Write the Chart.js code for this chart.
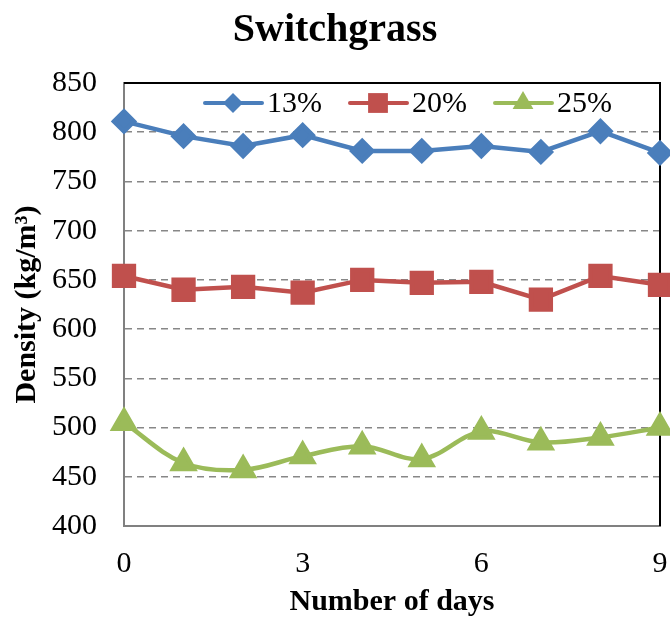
<!DOCTYPE html>
<html>
<head>
<meta charset="utf-8">
<script src="https://cdn.jsdelivr.net/npm/chart.js@4.4.0/dist/chart.umd.min.js"></script>
<style>
  html, body { margin: 0; padding: 0; background: #fff; }
</style>
</head>
<body>
<canvas id="chart" width="670" height="627"></canvas>
<script>
// Data
var days = [0, 1, 2, 3, 4, 5, 6, 7, 8, 9];
var density13 = [811, 796, 786, 797, 781, 781, 786, 780, 801, 779];
var density20 = [654, 640, 643, 637, 650, 647, 648, 630, 654, 645];
var density25 = [505, 464, 457, 471, 481, 468, 496, 485, 490, 500];
var seriesNames = ['13%', '20%', '25%'];
var yMin = 400, yMax = 850, yStep = 50;
var xStep = 3;

var serif = "'Liberation Serif', 'Times New Roman', serif";

function pairs(vals) {
  return days.map(function (d, i) { return { x: d, y: vals[i] }; });
}

// plot frame: black top and right edges
var framePlugin = {
  id: 'frame',
  beforeDatasetsDraw: function (chart) {
    var a = chart.chartArea, ctx = chart.ctx;
    ctx.save();
    ctx.strokeStyle = '#000';
    ctx.lineWidth = 2;
    ctx.beginPath();
    ctx.moveTo(a.left, a.top);
    ctx.lineTo(a.right, a.top);
    ctx.lineTo(a.right, a.bottom);
    ctx.stroke();
    ctx.restore();
  }
};

// legend inside the plot, Excel style: line with marker in the middle
var legendPlugin = {
  id: 'inLegend',
  afterDatasetsDraw: function (chart) {
    var ctx = chart.ctx;
    var y = 103;
    var x = 205;
    ctx.save();
    ctx.font = '30px ' + serif;
    ctx.textBaseline = 'middle';
    chart.data.datasets.forEach(function (ds) {
      ctx.strokeStyle = ds.borderColor;
      ctx.lineWidth = 4;
      ctx.lineCap = 'round';
      ctx.beginPath();
      ctx.moveTo(x, y);
      ctx.lineTo(x + 57, y);
      ctx.stroke();
      ctx.fillStyle = ds.pointBackgroundColor;
      Chart.helpers.drawPoint(ctx, {
        pointStyle: ds.pointStyle, radius: ds.pointRadius, rotation: 0, borderWidth: 0
      }, x + 28, y);
      ctx.fillStyle = '#000';
      ctx.fillText(ds.label, x + 62, y + 1);
      x += 145;
    });
    ctx.restore();
  }
};

var ctx = document.getElementById('chart').getContext('2d');
var chart = new Chart(ctx, {
  type: 'line',
  data: {
    datasets: [{
      label: seriesNames[0],
      data: pairs(density13),
      borderColor: '#4A7EBB',
      backgroundColor: '#4A7EBB',
      pointBackgroundColor: '#4A7EBB',
      pointBorderColor: '#4A7EBB',
      pointStyle: 'rectRot',
      pointRadius: 10,
      borderWidth: 4.5,
      tension: 0,
      clip: false
    }, {
      label: seriesNames[1],
      data: pairs(density20),
      borderColor: '#C0504D',
      backgroundColor: '#C0504D',
      pointBackgroundColor: '#C0504D',
      pointBorderColor: '#C0504D',
      pointStyle: 'rect',
      pointRadius: 14,
      borderWidth: 4.5,
      tension: 0,
      clip: false
    }, {
      label: seriesNames[2],
      data: pairs(density25),
      borderColor: '#9BBB59',
      backgroundColor: '#9BBB59',
      pointBackgroundColor: '#9BBB59',
      pointBorderColor: '#9BBB59',
      pointStyle: 'triangle',
      pointRadius: 12,
      borderWidth: 4.5,
      tension: 0.35,
      clip: false
    }]
  },
  options: {
    responsive: false,
    animation: false,
    layout: { padding: 0, autoPadding: false },
    plugins: {
      legend: { display: false },
      tooltip: { enabled: false },
      title: {
        display: true,
        text: 'Switchgrass',
        color: '#000',
        font: { family: serif, size: 40, weight: 'bold' },
        padding: { top: 7, bottom: 28 }
      }
    },
    scales: {
      x: {
        type: 'linear',
        min: days[0],
        max: days[days.length - 1],
        grid: { display: false, drawTicks: false },
        border: { display: true, color: '#808080', width: 2 },
        ticks: {
          stepSize: xStep,
          color: '#000',
          font: { family: serif, size: 30 },
          padding: 20,
          maxRotation: 0
        },
        title: {
          display: true,
          text: 'Number of days',
          color: '#000',
          font: { family: serif, size: 30, weight: 'bold' },
          padding: { top: 0, bottom: 7 }
        },
        afterFit: function (scale) {
          scale.height = 101;
          scale.paddingLeft = 0;
          scale.paddingRight = 10;
        }
      },
      y: {
        min: yMin,
        max: yMax,
        grid: { color: '#878787', lineWidth: 1.5, drawTicks: false },
        border: { display: true, color: '#808080', width: 2, dash: [7, 5] },
        ticks: {
          stepSize: yStep,
          color: '#000',
          font: { family: serif, size: 30 },
          padding: 27
        },
        title: {
          display: true,
          text: 'Density (kg/m\u00B3)',
          color: '#000',
          font: { family: serif, size: 30, weight: 'bold' },
          padding: { top: 9, bottom: 0 }
        },
        afterFit: function (scale) { scale.width = 124; }
      }
    }
  },
  plugins: [framePlugin, legendPlugin]
});
</script>
</body>
</html>
